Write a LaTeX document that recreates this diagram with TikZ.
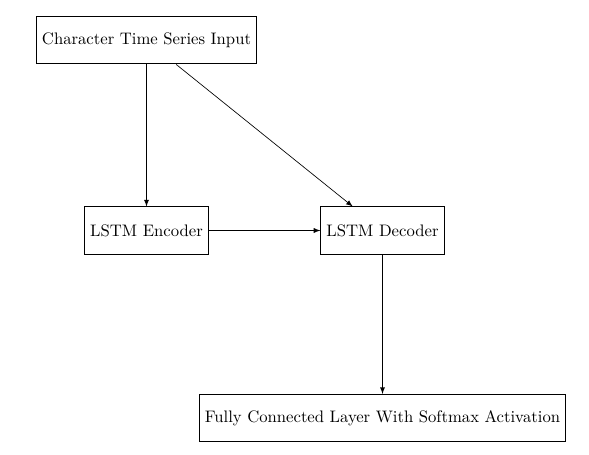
\documentclass[tikz,border=0pt]{standalone}
\usetikzlibrary{arrows}
\begin{document}
\begin{tikzpicture}[x=0.6pt,y=-0.6pt,
  box/.style={draw,semithick,rectangle,minimum height=28.2pt},
  conn/.style={-latex}]
\useasboundingbox (0,0) rectangle (589,455);
\node[box] (input) at (146.5,40.5) {Character Time Series Input};
\node[box] (enc) at (146.5,230.5) {LSTM Encoder};
\node[box] (dec) at (382.5,230.5) {LSTM Decoder};
\node[box] (fc) at (382.5,418) {Fully Connected Layer With Softmax Activation};
\draw[conn] (input) -- (enc);
\draw[conn] (input) -- (dec);
\draw[conn] (enc) -- (dec);
\draw[conn] (dec) -- (fc);
\end{tikzpicture}
\end{document}
